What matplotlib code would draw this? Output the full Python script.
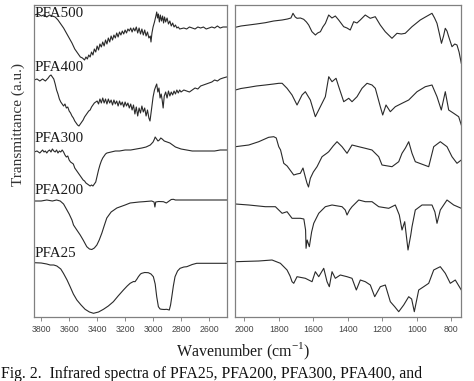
import numpy as np
import matplotlib
matplotlib.use("Agg")
import matplotlib.pyplot as plt

# ---------------- data (transmittance depth in a.u., larger = lower on plot) ----------------
# Left panel (O-H / C-H region), wavenumber cm^-1
pfa500_L_wn = [3850,3820,3800,3780,3760,3740,3720,3700,3680,3660,3640,3620,3600,3580,3560,3540,3520,3505,3490,3480,3470,3460,3450,3440,3430,3420,3410,3400,3390,3380,3370,3360,3350,3340,3330,3320,3310,3300,3290,3280,3270,3260,3250,3240,3230,3220,3210,3200,3190,3180,3170,3160,3150,3140,3130,3120,3110,3100,3090,3080,3070,3060,3050,3040,3030,3020,3015,3008,3000,2990,2980,2974,2968,2962,2955,2948,2940,2932,2925,2918,2910,2900,2890,2880,2870,2860,2850,2840,2830,2820,2810,2780,2760,2740,2720,2700,2680,2660,2640,2620,2600,2580,2560,2540,2520,2500,2475]
pfa500_L_y = [15,14,16,15,17,15,16,17,20,24,28,33,38,43,49,53,57,58,60,57,59,55,57,52,55,49,52,46,50,44,47,42,46,40,44,38,42,36,40,35,38,33,37,32,35,31,34,30,33,29,31,28,32,28,31,27,33,28,34,29,35,30,36,32,38,36,42,33,27,22,16,12,18,14,22,15,21,16,23,17,22,18,24,21,26,23,27,25,28,27,29,28,29,27,28,29,27,28,27,29,28,27,28,26,28,27,27]

pfa400_L_wn = [3850,3830,3810,3790,3770,3750,3740,3730,3720,3710,3700,3690,3680,3670,3660,3650,3640,3630,3620,3610,3600,3590,3580,3570,3560,3550,3540,3530,3520,3510,3500,3490,3480,3470,3460,3450,3440,3430,3420,3410,3400,3390,3380,3370,3360,3350,3340,3330,3320,3310,3300,3290,3280,3270,3260,3250,3240,3230,3220,3210,3200,3190,3180,3170,3160,3150,3140,3130,3120,3110,3100,3090,3080,3070,3060,3050,3040,3030,3022,3010,3000,2990,2980,2974,2966,2958,2950,2942,2935,2928,2920,2910,2900,2890,2880,2870,2860,2850,2840,2830,2820,2810,2800,2780,2760,2740,2720,2700,2680,2660,2640,2620,2600,2580,2560,2540,2520,2500,2475]
pfa400_L_y = [80,79,81,79,81,78,76,75,77,79,84,90,94,99,102,104,106,104,108,107,111,113,116,118,121,123,125,126,124,122,120,117,115,113,111,110,107,105,103,102,101,104,99,103,98,103,99,104,99,103,100,105,100,104,101,106,101,105,102,107,102,106,103,108,104,110,105,114,107,116,108,113,106,112,108,116,110,118,121,108,97,90,86,84,92,88,98,94,100,108,96,92,98,91,96,92,95,91,94,90,93,90,92,90,91,92,90,88,89,86,85,84,83,82,80,81,79,78,77]

pfa300_L_wn = [3850,3830,3810,3790,3780,3770,3760,3750,3740,3730,3720,3710,3700,3690,3680,3670,3660,3650,3640,3630,3620,3610,3600,3590,3580,3570,3560,3550,3540,3530,3520,3510,3500,3490,3480,3470,3460,3450,3440,3430,3420,3410,3400,3390,3380,3370,3360,3350,3340,3330,3300,3270,3240,3200,3160,3120,3080,3050,3020,3000,2990,2985,2975,2965,2955,2945,2935,2920,2900,2880,2860,2840,2820,2800,2760,2720,2680,2640,2600,2560,2520,2475]
pfa300_L_y = [152,151,153,150,152,151,153,151,150,152,149,151,152,150,153,151,152,150,152,155,157,156,160,162,163,164,168,170,172,174,176,178,180,181,183,184,185,186,185,186,184,182,176,170,165,161,158,156,154,153,152,151,151,150,150,149,148,147,145,142,139,137,139,141,140,138,139,141,142,143,145,147,148,149,150,151,151,151,151,151,150,150]

pfa200_L_wn = [3850,3800,3760,3720,3690,3664,3640,3616,3600,3580,3569,3550,3521,3500,3474,3455,3438,3420,3402,3385,3366,3350,3331,3300,3259,3200,3164,3100,3069,3010,2993,2987,2981,2960,2926,2905,2895,2870,2855,2840,2800,2700,2600,2475]
pfa200_L_y = [201,201,200,201,200,201,204,210,214,220,225,229,235,240,246.7,249,249.5,248,245,240,233,226,218,212,208,205,203,202,201.7,201,202,207,202,201.5,201.7,203,202,199.5,199.3,200,200,200,200,200]

pfa25_L_wn = [3850,3800,3760,3736,3710,3688,3660,3641,3615,3593,3570,3545,3515,3486,3455,3426,3390,3355,3320,3284,3250,3212,3185,3164,3140,3129,3115,3105,3090,3081,3060,3034,3015,2998,2985,2974,2962,2950,2938,2920,2902,2890,2884,2875,2866,2855,2843,2825,2807,2780,2759,2720,2688,2600,2475]
pfa25_L_y = [262.7,263,264,265,265,266,269,273.3,280,286.7,294,300,305,309.3,312,313.3,312,309.3,306,301.7,296,290,286,283.3,281.5,281.7,279,276.7,274,273.3,272.5,272.7,274,276.7,284,296.7,306.7,309,309.3,309.5,309.3,309.8,310,305,296.7,286,276.7,271,268.3,267,266.7,264.5,263.3,263.3,263.3]

# Right panel (fingerprint region)
pfa500_R_wn = [2052,2020,1974.5,1930,1878,1830,1781,1750,1730,1718,1705,1694.5,1675,1656,1640,1627,1608,1588,1575,1559,1545,1530,1511,1492,1472.5,1453,1424,1405,1386,1366,1347,1328,1299,1270,1241,1212,1183,1144,1115,1090,1067,1028,980,950,912,897,883,870,857,845,835,825,815,796,780,767,755,742]
pfa500_R_y = [27.3,26,25,24,22.7,21,20,19,18,13.3,17,18.3,18,19.3,22,25,31.7,35,33,31.7,27,23.3,15,18,16,20,26.7,28,30,21.7,23,20,15,18.3,16.7,25,31.7,38.3,33.3,34,33.3,26.7,20,17,13.3,18,23.3,33,43.3,36,28.3,31,36.7,46.7,44,45,52,63.3]

pfa400_R_wn = [2052,2020,1974.5,1930,1878,1830,1800,1781,1752.5,1723.5,1694.5,1665.5,1646.4,1617.4,1588.4,1559.4,1530.4,1510.7,1491.6,1468.4,1452.8,1423.8,1394.8,1375.7,1346.7,1317.7,1288.7,1259.7,1240.6,1211.6,1197.7,1178.6,1153.6,1124.7,1085.8,1047,998.8,950.7,911.9,882.9,858,834.8,815.2,786.1,757.2,742]
pfa400_R_y = [90,88.5,87.3,86,85,84,83.3,83.3,88.3,95,105,95,91.7,100,116.7,106.7,96.7,76.7,81.7,78.3,86.7,101.7,98.3,101.7,96.7,88.3,83.3,85,88.3,106.7,115,105,111.7,106.7,103.3,100,91.7,86.7,85,96.7,110,91.7,110,113.3,116.7,125]

pfa300_R_wn = [2052,1974.5,1916.5,1859,1829.6,1815,1800.6,1790,1771.6,1752,1735,1713.6,1695,1675.4,1660,1645,1636.5,1628,1617.4,1600,1578.6,1549.6,1520,1510.7,1485,1462.6,1433.6,1404.6,1375.7,1336.8,1298.6,1260,1220.9,1201.8,1143.8,1104.9,1085.8,1066,1047,1027.8,1008.7,931,902,863.8,824.9,796,767,742]
pfa300_R_y = [146.7,145,141.7,137.3,136.7,138,146.7,150,163.3,166,170,175,174,173.3,168,178,183.3,187,178.3,172,166.7,156.7,153,151.7,146,141.7,146.7,153.3,145,146.7,148.3,150,156.7,165,166.7,161.7,153.3,148,141.7,153.3,161.7,166.7,146.7,141.7,146.7,156.7,163.3,160]

pfa200_R_wn = [2052,1974.5,1878,1820,1781,1752.5,1723.5,1675.4,1655,1645,1642.3,1636,1623.2,1610,1597.7,1568.7,1530.4,1491.6,1433.6,1415,1404.6,1390,1375.7,1336.8,1298.6,1259.7,1220.9,1162.9,1124.7,1101.5,1085.8,1070.2,1051,1035,1027.8,1008.7,969.9,911.9,895,882.9,863.8,824.9,786.1,742]
pfa200_R_y = [204,205,206.7,206.7,213.3,211.7,218.3,218.3,219,230,248.3,240,246.7,232,223.3,213.3,206.7,205,206.7,210,215,210,206.7,200,201.7,201.7,206.7,208.3,205,215,230,221.7,250,235,226.7,210,205,205,212,223.3,210,200,205,208.3]

pfa25_R_wn = [2052,1916.5,1839.5,1791,1752.5,1735,1723.5,1713.6,1694.5,1646.4,1607.5,1588.4,1568.7,1539.7,1520.6,1507.3,1491.6,1472.5,1443.5,1404.6,1375.7,1350.7,1327.5,1298.6,1269.6,1244.1,1211.6,1182.6,1153.6,1128.1,1104.9,1076,1047,1030,1014.5,989,960,931,902,882.9,863.8,834.8,805.8,776.9,742]
pfa25_R_y = [261.7,261,260,263.3,270,276,281.7,283.3,276.7,278.3,281.7,271.7,276.7,268.3,281.7,286.7,271.7,278.3,275,276.7,278.3,290,280,281.7,285,296.7,286.7,285,301.7,306.7,311.7,305,296.7,299,311.7,290,286.7,283.3,270,268.3,266.7,273.3,283.3,280,290]

sample_names = ["PFA500", "PFA400", "PFA300", "PFA200", "PFA25"]
label_y = [13, 67, 138, 190, 253]

left_ticks = [3800, 3600, 3400, 3200, 3000, 2800, 2600]
right_ticks = [2000, 1800, 1600, 1400, 1200, 1000, 800]

left_series = [(pfa500_L_wn, pfa500_L_y), (pfa400_L_wn, pfa400_L_y), (pfa300_L_wn, pfa300_L_y),
               (pfa200_L_wn, pfa200_L_y), (pfa25_L_wn, pfa25_L_y)]
right_series = [(pfa500_R_wn, pfa500_R_y), (pfa400_R_wn, pfa400_R_y), (pfa300_R_wn, pfa300_R_y),
                (pfa200_R_wn, pfa200_R_y), (pfa25_R_wn, pfa25_R_y)]

# ---------------- figure ----------------
W, H = 474, 381
fig = plt.figure(figsize=(W / 100, H / 100), dpi=100)

def px_axes(x0, x1, y0, y1):
    return fig.add_axes([x0 / W, 1 - y1 / H, (x1 - x0) / W, (y1 - y0) / H])

axL = px_axes(33.5, 226.5, 5, 316.5)
axR = px_axes(234.7, 461.3, 5, 316.5)

line_kw = dict(color="#2a2a2a", lw=0.8)
tick_font = dict(family=["Liberation Sans Narrow", "Liberation Sans", "DejaVu Sans"], size=6.3)

for ax, series, xlim, ticks in [(axL, left_series, (3855, 2475), left_ticks),
                                (axR, right_series, (2056, 742), right_ticks)]:
    for wn, yv in series:
        ax.plot(wn, yv, **line_kw)
    ax.set_xlim(*xlim)
    ax.set_ylim(316.5, 5)
    ax.set_yticks([])
    ax.set_xticks(ticks)
    ax.set_xticklabels([str(t) for t in ticks], color="#444444", **tick_font)
    ax.tick_params(axis="x", direction="out", length=3, width=0.6, color="#777777", pad=3)
    for s in ax.spines.values():
        s.set_color("#808080")
        s.set_linewidth(0.9)

serif = ["Liberation Serif", "DejaVu Serif"]
for name, yl in zip(sample_names, label_y):
    axL.text(3845, yl, name, fontsize=10.8, family=serif, color="#1a1a1a", va="center", ha="left")

fig.text(18 / W, 1 - 124 / H, "Transmittance (a.u.)", rotation=90, ha="center", va="center",
         fontsize=11, family=serif, color="#333333")
fig.text(243 / W, 1 - 351 / H, "Wavenumber (cm$^{\\mathregular{-1}}$)", ha="center", va="center",
         fontsize=11.5, family=serif, color="#1a1a1a")
fig.text(1 / W, 1 - 366 / H, "Fig. 2.  Infrared spectra of PFA25, PFA200, PFA300, PFA400, and",
         ha="left", va="top", fontsize=11.3, family=serif, color="#111111")

fig.savefig("out.png", dpi=100)
